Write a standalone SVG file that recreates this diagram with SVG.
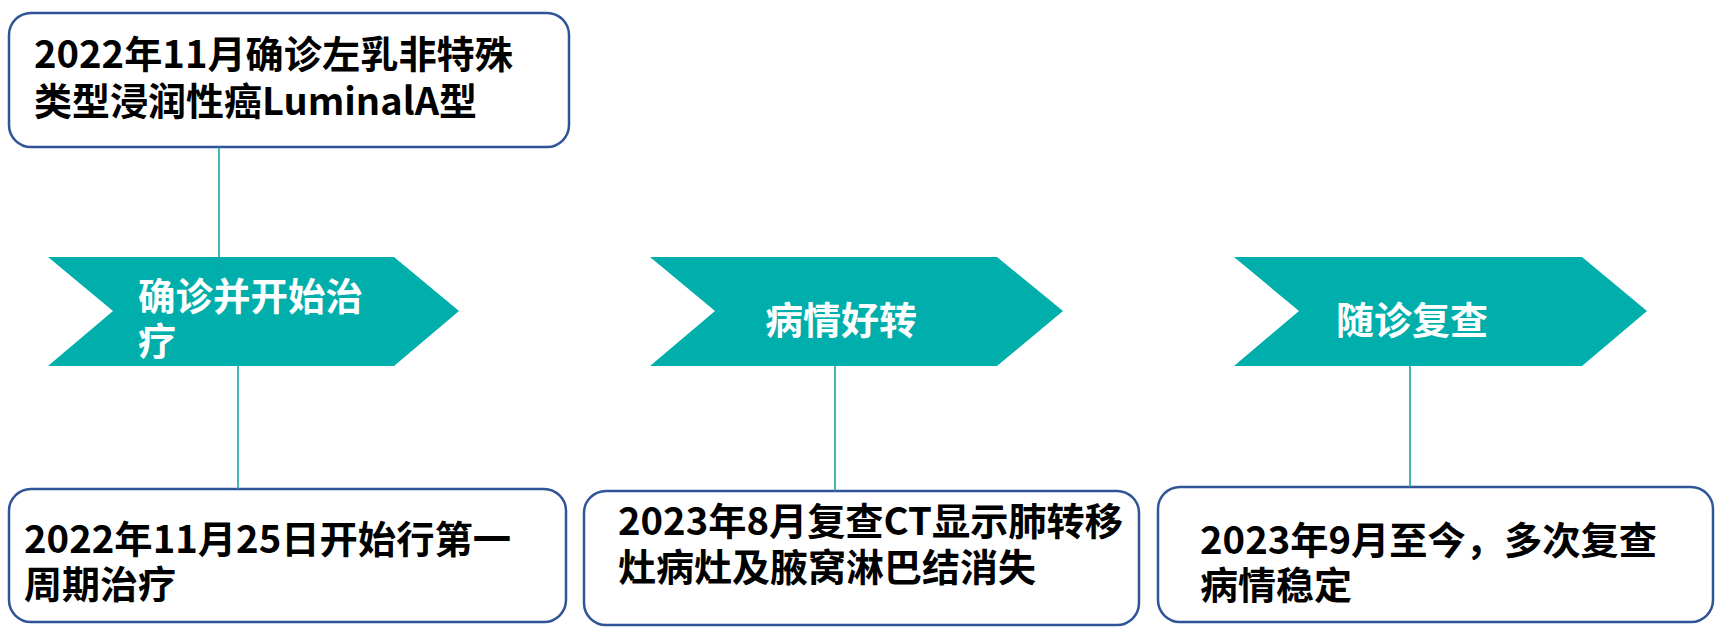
<svg xmlns="http://www.w3.org/2000/svg" width="1717" height="642" viewBox="0 0 1717 642">
<style>
.box{fill:#FFFFFF;stroke:#2F5597;stroke-width:2.5}
.chev{fill:#00AFAB}
.conn{stroke:#17A2A0;stroke-width:1.6;fill:none}
.t{font-family:"Noto Sans CJK SC","Microsoft YaHei",sans-serif;font-weight:bold;font-size:38px;fill:#000000}
.w{font-family:"Noto Sans CJK SC","Microsoft YaHei",sans-serif;font-weight:bold;font-size:38px;fill:#FFFFFF}
</style>
<rect width="1717" height="642" fill="#FFFFFF"/>
<g id="node-diagnosis">
<rect class="box" x="9" y="13" width="560" height="134" rx="22"/>
<text class="t" x="34" y="68" textLength="479" lengthAdjust="spacingAndGlyphs">2022年11月确诊左乳非特殊</text>
<text class="t" x="34" y="115" textLength="443" lengthAdjust="spacingAndGlyphs">类型浸润性癌LuminalA型</text>
</g>
<g id="node-stage1">
<polygon class="chev" points="48,257 394,257 459,311 394,366 48,366 113,311"/>
<text class="w" x="138" y="310" textLength="225" lengthAdjust="spacingAndGlyphs">确诊并开始治</text>
<text class="w" x="138" y="355">疗</text>
</g>
<g id="node-stage2">
<polygon class="chev" points="650,257 997,257 1063,311 997,366 650,366 715,311"/>
<text class="w" x="841" y="334" text-anchor="middle">病情好转</text>
</g>
<g id="node-stage3">
<polygon class="chev" points="1234,257 1582,257 1647,311 1582,366 1234,366 1299,311"/>
<text class="w" x="1412" y="334" text-anchor="middle">随诊复查</text>
</g>
<g id="node-treatment">
<rect class="box" x="9" y="489" width="557" height="133" rx="22"/>
<text class="t" x="24" y="553" textLength="487" lengthAdjust="spacingAndGlyphs">2022年11月25日开始行第一</text>
<text class="t" x="24" y="598">周期治疗</text>
</g>
<g id="node-improve">
<rect class="box" x="584" y="491" width="555" height="134" rx="22"/>
<text class="t" x="618" y="535" textLength="505" lengthAdjust="spacingAndGlyphs">2023年8月复查CT显示肺转移</text>
<text class="t" x="618" y="581">灶病灶及腋窝淋巴结消失</text>
</g>
<g id="node-followup">
<rect class="box" x="1158" y="487" width="555" height="135" rx="22"/>
<text class="t" x="1200" y="554" textLength="457" lengthAdjust="spacingAndGlyphs">2023年9月至今，多次复查</text>
<text class="t" x="1200" y="599">病情稳定</text>
</g>
<g id="connectors">
<line class="conn" x1="219" y1="147" x2="219" y2="270"/>
<line class="conn" x1="238" y1="366" x2="238" y2="489"/>
<line class="conn" x1="835" y1="366" x2="835" y2="491"/>
<line class="conn" x1="1410" y1="366" x2="1410" y2="487"/>
</g>
</svg>
